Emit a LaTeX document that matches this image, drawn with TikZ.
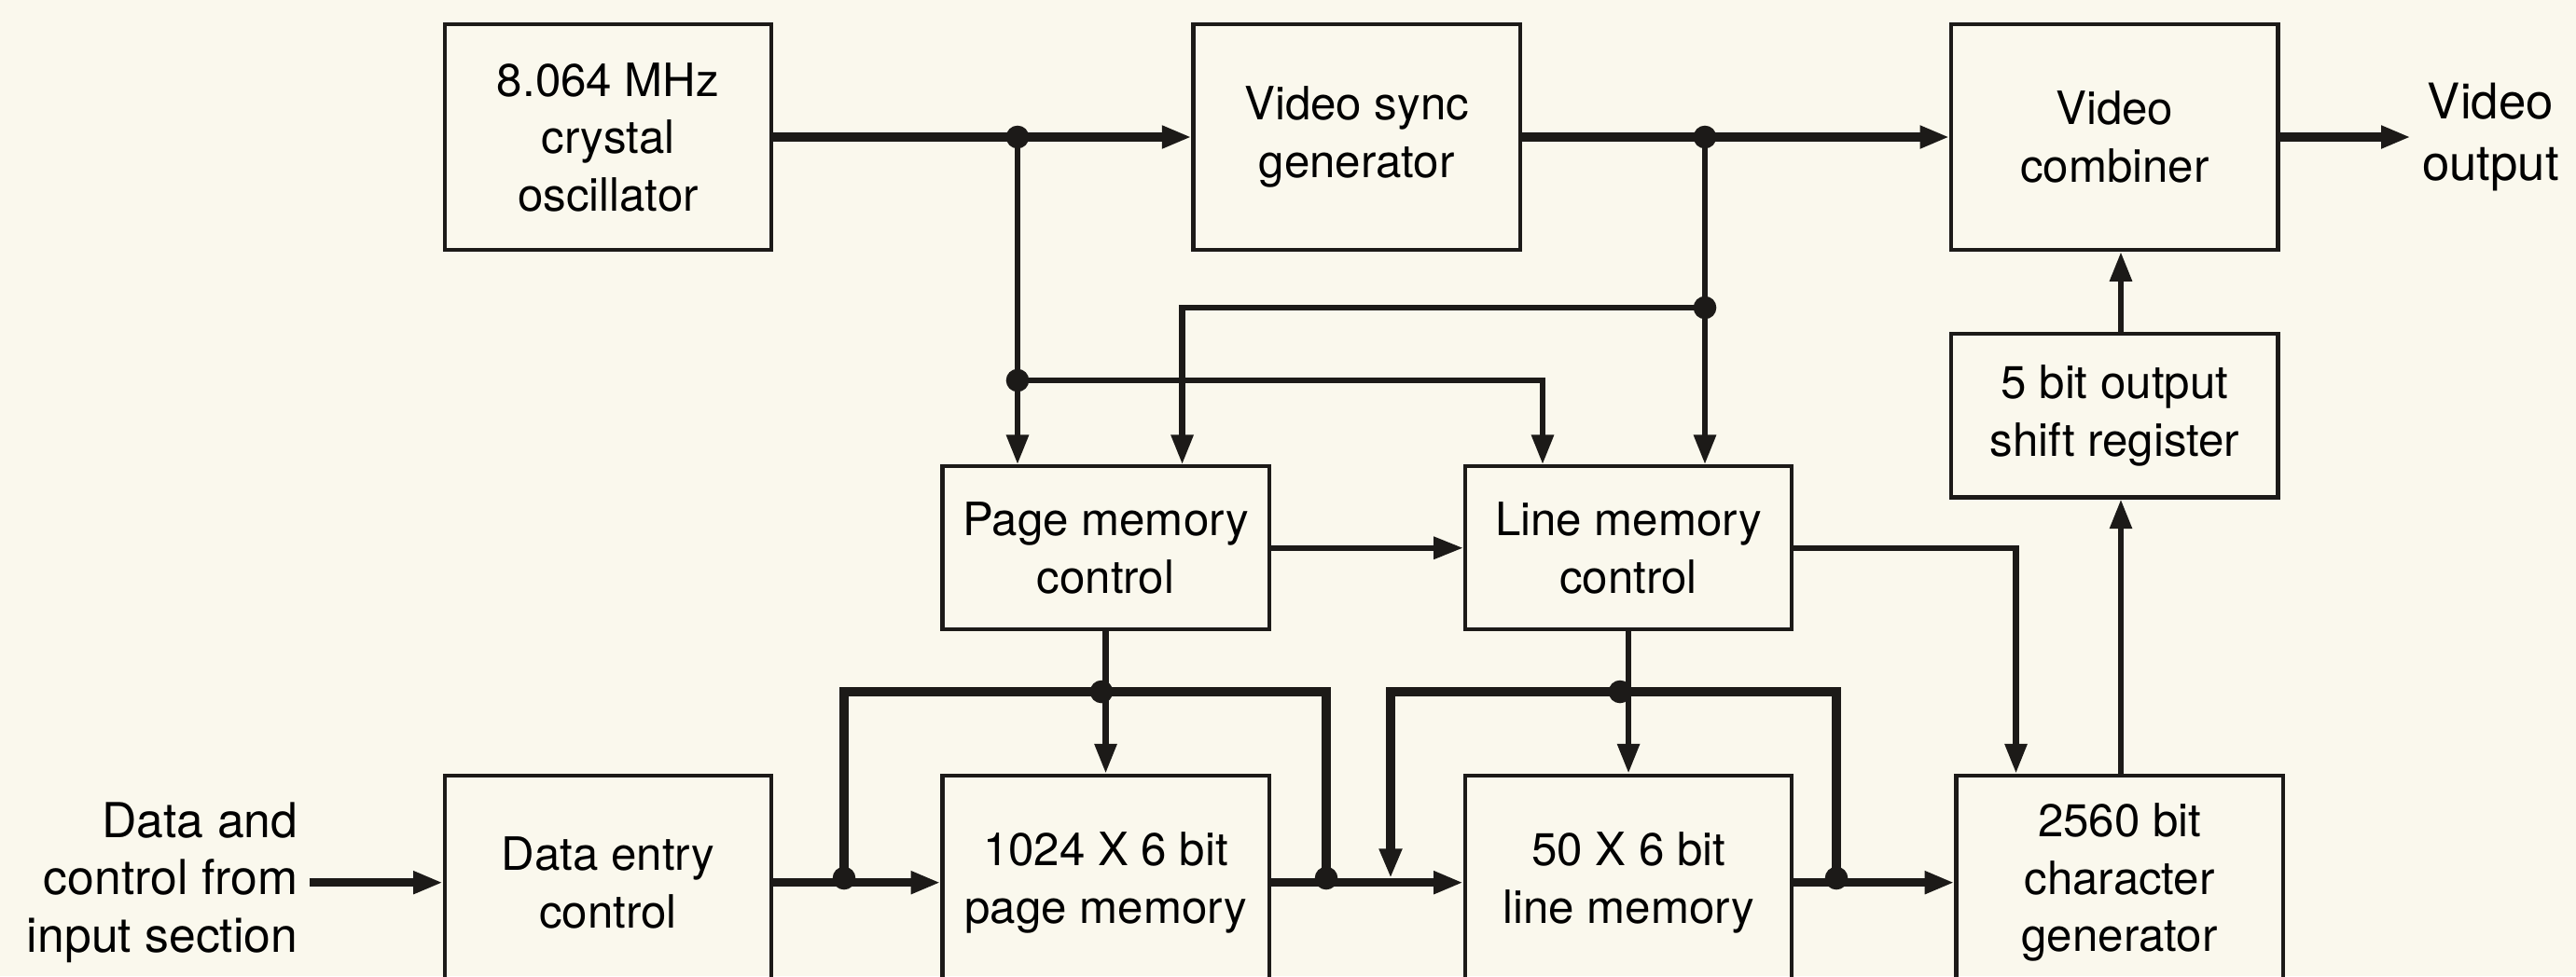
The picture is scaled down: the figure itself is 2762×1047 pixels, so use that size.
\documentclass[tikz,border=0pt]{standalone}
\usepackage{fontspec}
\setmainfont{TeX Gyre Heros}
\usetikzlibrary{positioning,arrows.meta}

\definecolor{paper}{RGB}{250,248,237}
\definecolor{ink}{RGB}{28,26,24}

\begin{document}
\begin{tikzpicture}[
x=0.01cm, y=-0.01cm,
font=\fontsize{14}{17.5}\selectfont,
>={Triangle[length=9pt,width=6.5pt]},
block/.style={draw=ink, line width=1.2pt, minimum width=3.5cm, align={center}, inner sep=2pt},
wire/.style={draw=ink, line width=1.8pt},
bus/.style={draw=ink, line width=2.6pt},
dot/.style={circle, fill=ink, inner sep=0pt, minimum size=7pt}
]
\fill[paper] (0,0) rectangle (2762,1047);
\useasboundingbox (0,0) rectangle (2762,1047);

% top row
\node[block, minimum height=2.42cm] (crystal) at (652,147) {8.064 MHz\\crystal\\oscillator};
\node[block, minimum height=2.42cm, right=4.48cm of crystal] (sync) {Video sync\\generator};
\node[block, minimum height=2.42cm, right=4.58cm of sync] (combiner) {Video\\combiner};
\node[align=center, font=\fontsize{15}{19}\selectfont, right=1.4cm of combiner] (vidout) {Video\\output};
\node[block, minimum height=1.75cm, below=0.86cm of combiner] (shiftreg) {5 bit output\\shift register};

% bottom row
\node[block, minimum height=2.3cm, below=5.59cm of crystal] (dataentry) {Data entry\\control};
\node[block, minimum height=2.3cm, right=1.79cm of dataentry] (pagemem) {1024 X 6 bit\\page memory};
\node[block, minimum height=2.3cm, right=2.06cm of pagemem] (linemem) {50 X 6 bit\\line memory};
\node[block, minimum height=2.3cm, right=1.72cm of linemem] (chargen) {2560 bit\\character\\generator};
\node[align=right, font=\fontsize{14.7}{17.6}\selectfont, left=1.43cm of dataentry] (input) {Data and\\control from\\input section};

% controls
\node[block, minimum height=1.75cm, above=1.52cm of pagemem] (pmc) {Page memory\\control};
\node[block, minimum height=1.75cm, above=1.52cm of linemem] (lmc) {Line memory\\control};

% junctions
\coordinate (clk) at (1091,147);
\coordinate (clk2) at (1091,408);
\coordinate (syn) at (1828,147);
\coordinate (syn2) at (1828,330);
\coordinate (pbl) at (905,942);
\coordinate (pbr) at (1422,942);
\coordinate (pbc) at (1181,742);
\coordinate (lbl) at (1491,942);
\coordinate (lbr) at (1969,942);
\coordinate (lbc) at (1737,742);
\coordinate (xm) at (2274,0);

\draw[bus,->] (crystal) -- (sync);
\draw[bus,->] (sync) -- (combiner);
\draw[bus,->] (combiner) -- (vidout);
\draw[wire,->] (clk) -- (clk |- pmc.north);
\draw[wire,->] (clk2) -| ([xshift=-0.92cm]lmc.north);
\draw[wire,->] (syn) -- (syn |- lmc.north);
\draw[wire,->] (syn2) -| ([xshift=0.82cm]pmc.north);
\draw[wire,->] (pmc) -- (lmc);
\draw[wire,->] (lmc.east) -| ([xshift=-1.11cm]chargen.north);
\draw[wire,->] (chargen.north -| xm) -- (shiftreg.south -| xm);
\draw[wire,->] (shiftreg.north -| xm) -- (combiner.south -| xm);

\draw[bus,->] (input) -- (dataentry);
\draw[bus,->] (dataentry) -- (pagemem);
\draw[bus,->] (pagemem) -- (linemem);
\draw[bus,->] (linemem) -- (chargen);
\draw[wire,->] (pmc) -- (pagemem);
\draw[wire,->] (lmc) -- (linemem);
\draw[bus] (pbl) |- (pbr |- pbc) -- (pbr);
\draw[bus,->] (lbr) |- (lbl |- lbc) -- (lbl);

\foreach \j in {clk,clk2,syn,syn2,pbl,pbr,pbc,lbr,lbc}
  \node[dot] at (\j) {};
\end{tikzpicture}
\end{document}
